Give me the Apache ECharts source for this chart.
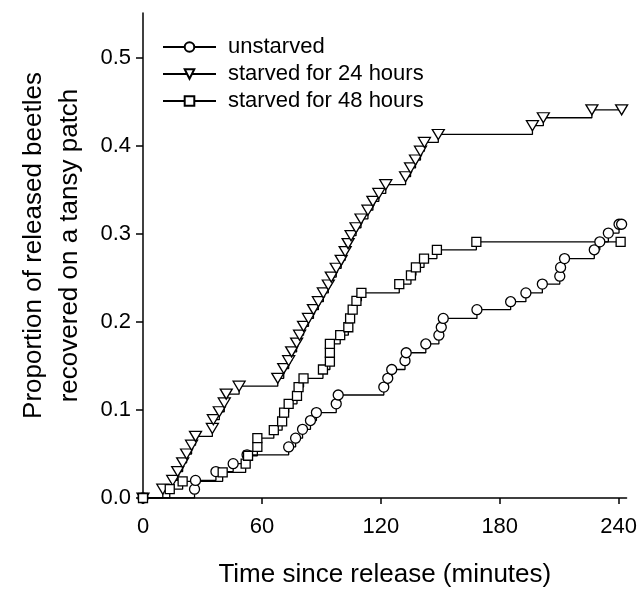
<!DOCTYPE html>
<html><head><meta charset="utf-8">
<script src="https://cdn.jsdelivr.net/npm/echarts@6/dist/echarts.min.js"></script>
<style>html,body{margin:0;padding:0;background:#fff}#c{width:640px;height:594px}</style>
</head><body><div id="c"></div>
<script>
const seriesNames = ['unstarved', 'starved for 24 hours', 'starved for 48 hours'];
const xTicks = [0, 60, 120, 180, 240];
const yTicks = [0, 0.1, 0.2, 0.3, 0.4, 0.5];

const unstarvedT = [0, 26, 26.5, 36.8, 45.5, 52.5, 73.5, 77, 80.5, 84.5, 87.5, 97.5, 98.5, 121.5, 123.5, 125.5, 132.2, 132.8, 142.7, 149.3, 150.5, 151.5, 168.5, 185.5, 193.2, 201.5, 210.3, 210.7, 212.7, 227.7, 230.5, 234.8, 240.2, 241.5];
const unstarvedP = [0, 0.010, 0.020, 0.030, 0.039, 0.049, 0.058, 0.068, 0.078, 0.088, 0.097, 0.107, 0.117, 0.126, 0.136, 0.146, 0.156, 0.165, 0.175, 0.185, 0.194, 0.204, 0.214, 0.223, 0.233, 0.243, 0.252, 0.262, 0.272, 0.282, 0.291, 0.301, 0.311, 0.311];

const starved24T = [0, 10, 15, 17.5, 20, 22, 24.5, 26.5, 35, 35.5, 38.5, 41, 42, 48.5, 68, 71, 73.5, 75, 77.5, 79, 81, 83.5, 86, 88.5, 91, 93.5, 95, 97.5, 100, 102, 103.5, 105, 107.5, 110, 113.5, 116, 119, 122.5, 132.5, 135, 137.5, 140, 142, 149, 196.5, 202, 226.5, 241.5];
const starved24P = [0, 0.010, 0.020, 0.030, 0.040, 0.050, 0.060, 0.070, 0.079, 0.089, 0.098, 0.108, 0.118, 0.127, 0.136, 0.147, 0.156, 0.166, 0.176, 0.185, 0.195, 0.204, 0.214, 0.223, 0.233, 0.242, 0.251, 0.261, 0.270, 0.280, 0.289, 0.298, 0.307, 0.317, 0.327, 0.337, 0.346, 0.356, 0.365, 0.375, 0.384, 0.394, 0.404, 0.413, 0.423, 0.432, 0.441, 0.441];

const starved48T = [0, 13.5, 20, 40.2, 51.8, 53, 57.7, 57.7, 66, 70.2, 71.2, 73.5, 77.7, 78.5, 81, 90.8, 94.3, 94.3, 94.3, 99.5, 103.6, 104.5, 105.8, 107.7, 110.2, 129.3, 135.2, 137.7, 141.8, 148.3, 168.2, 241];
const starved48P = [0, 0.010, 0.019, 0.029, 0.039, 0.048, 0.058, 0.068, 0.077, 0.087, 0.097, 0.107, 0.116, 0.126, 0.136, 0.146, 0.155, 0.165, 0.175, 0.185, 0.194, 0.204, 0.214, 0.224, 0.233, 0.243, 0.253, 0.262, 0.272, 0.282, 0.291, 0.291];

const FONT = '"Liberation Sans", Arial, Helvetica, sans-serif';
const zip = (t, p) => t.map((v, i) => [v, p[i]]);

function mkSeries(name, t, p, symbol, size, rotate) {
  return {
    name: name, type: 'line', step: 'end', data: zip(t, p),
    symbol: symbol, symbolSize: size, symbolRotate: rotate || 0,
    showAllSymbol: true, animation: false,
    lineStyle: { color: '#000', width: 1.3 },
    itemStyle: { color: '#fff', borderColor: '#000', borderWidth: 1.3 },
    emphasis: { disabled: true }
  };
}

const chart = echarts.init(document.getElementById('c'), null, { renderer: 'canvas' });
chart.setOption({
  backgroundColor: '#fff',
  animation: false,
  textStyle: { fontFamily: FONT },
  grid: { left: 143, right: 9, top: 13, bottom: 96, containLabel: false },
  legend: {
    orient: 'vertical', left: 157, top: 31,
    itemWidth: 53, itemHeight: 12, itemGap: 5,
    data: seriesNames,
    textStyle: { fontSize: 22, color: '#000', fontFamily: FONT, lineHeight: 22, padding: [0, 0, 0, 7] }
  },
  xAxis: {
    type: 'value', min: 0, max: 244, interval: 60,
    name: 'Time since release (minutes)', nameLocation: 'middle', nameGap: 64,
    nameTextStyle: { fontSize: 26, color: '#000', fontFamily: FONT },
    axisLine: { show: true, lineStyle: { color: '#000', width: 1.5 } },
    axisTick: { show: true, length: 6, customValues: xTicks, lineStyle: { color: '#000', width: 1.5 } },
    axisLabel: { customValues: xTicks, fontSize: 22, color: '#000', margin: 18, fontFamily: FONT },
    splitLine: { show: false }
  },
  yAxis: {
    type: 'value', min: 0, max: 0.551, interval: 0.1,
    name: 'Proportion of released beetles\nrecovered on a tansy patch', nameLocation: 'middle', nameGap: 55,
    nameTextStyle: { fontSize: 26, color: '#000', fontFamily: FONT, lineHeight: 36, padding: [0, 0, 0, 20] },
    axisLine: { show: true, lineStyle: { color: '#000', width: 1.5 } },
    axisTick: { show: true, length: 7, customValues: yTicks, lineStyle: { color: '#000', width: 1.5 } },
    axisLabel: { customValues: yTicks, fontSize: 22, color: '#000', margin: 12, fontFamily: FONT, formatter: v => v.toFixed(1) },
    splitLine: { show: false }
  },
  series: [
    mkSeries(seriesNames[0], unstarvedT, unstarvedP, 'circle', 10),
    mkSeries(seriesNames[1], starved24T, starved24P, 'triangle', [12, 10], 180),
    mkSeries(seriesNames[2], starved48T, starved48P, 'rect', 9)
  ]
});
</script></body></html>
